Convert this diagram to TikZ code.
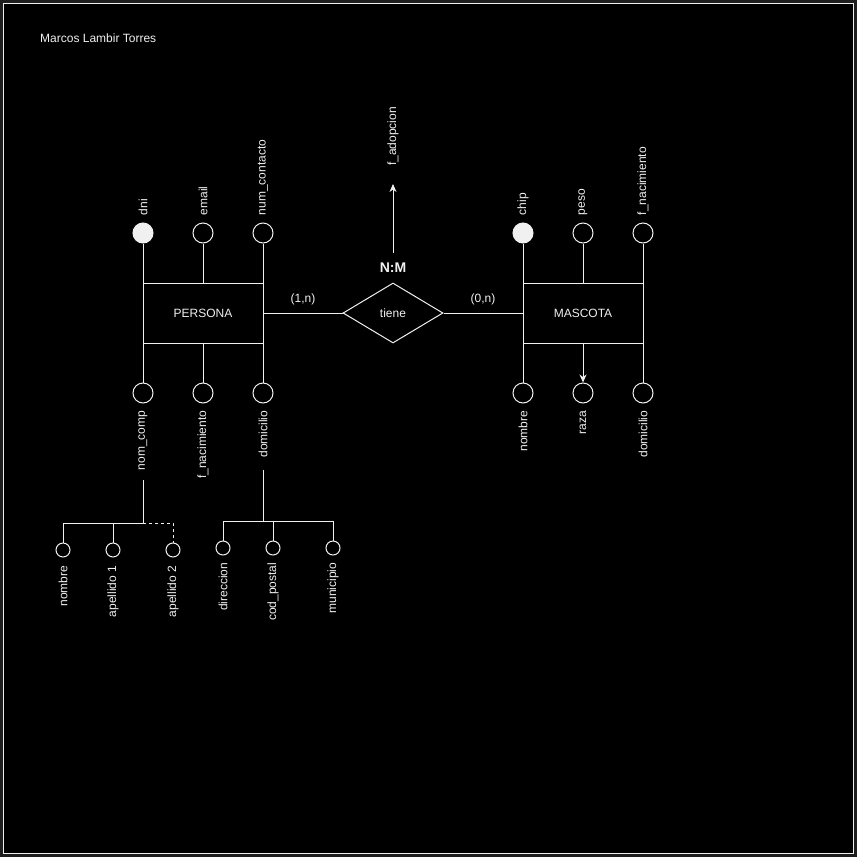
\documentclass[tikz,border=0pt]{standalone}
\usepackage{fontspec}
\setmainfont{Liberation Sans}
\usetikzlibrary{arrows.meta,calc,positioning,shapes.geometric}
\definecolor{Frame}{HTML}{1E1E1E}
\definecolor{Ink}{HTML}{F0F0F0}
\tikzset{entity/.style={draw=Ink,line width=1pt,minimum width=120pt,minimum height=60pt,inner sep=0pt,text=Ink,font=\fontsize{12}{14}\selectfont},rel/.style={diamond,aspect=1.6667,draw=Ink,line width=1pt,minimum width=100pt,minimum height=60pt,inner sep=0pt,text=Ink,font=\fontsize{12}{14}\selectfont},attr/.style={circle,draw=Ink,line width=1pt,minimum size=20pt,inner sep=0pt},keyattr/.style={attr,fill=Ink},subattr/.style={circle,draw=Ink,line width=1pt,minimum size=14pt,inner sep=0pt},lbl/.style={text=Ink,inner sep=0pt,font=\fontsize{12}{14}\selectfont},uplbl/.style={lbl,rotate=90,anchor=west},downlbl/.style={lbl,rotate=90,anchor=east},link/.style={draw=Ink,line width=1pt},tip/.style={-{Stealth[length=8pt,width=7pt,inset=2.5pt]},link}}

\begin{document}
\begin{tikzpicture}[x=1pt,y=-1pt]
        \fill[Frame](0,0)rectangle(857,857);
        \filldraw[fill=black,draw=Ink,line width=1pt](3.5,3.5)rectangle(853.5,853.5);
        \node[lbl,anchor=west](autor)at(40,38){Marcos Lambir Torres};
        % entidades y relacion
        \node[entity](persona)at(203,313){PERSONA};
        \node[entity](mascota)at(583,313){MASCOTA};
        \node[rel](tiene)at(393,313){tiene};
        \node[lbl,font=\fontsize{14}{16}\selectfont\bfseries](card)at(393,268){N:M};
        \draw[link](persona)--node[lbl,above=8pt]{(1,n)}(tiene);
        \draw[link](tiene)--node[lbl,above=8pt]{(0,n)}(mascota);
        \coordinate(adopbase)at(393,253);
        \coordinate(adoptip)at(393,184);
        \node[uplbl](fadop)at(393,166){f\_adopcion};
        \draw[tip](adopbase)--(adoptip);
        % atributos de PERSONA
        \foreach \n/\x/\s/\t in {dni/143/keyattr/dni,email/203/attr/email,numc/263/attr/num\_contacto}{
          \node[\s](\n)at(\x,233){};
          \node[uplbl](l\n)at([yshift=7pt]\n.north){\t};
          \draw[link](\n)--(\n|-persona.north);}
        \foreach \n/\x/\t in {nomc/143/nom\_comp,fnac/203/f\_nacimiento,domi/263/domicilio}{
          \node[attr](\n)at(\x,393){};
          \node[downlbl](l\n)at([yshift=-7pt]\n.south){\t};
          \draw[link](\n)--(\n|-persona.south);}
        % atributos de MASCOTA
        \foreach \n/\x/\s/\t in {chip/523/keyattr/chip,peso/583/attr/peso,fnacm/643/attr/f\_nacimiento}{
          \node[\s](\n)at(\x,233){};
          \node[uplbl](l\n)at([yshift=7pt]\n.north){\t};
          \draw[link](\n)--(\n|-mascota.north);}
        \foreach \n/\x/\t in {nomm/523/nombre,raza/583/raza,domm/643/domicilio}{
          \node[attr](\n)at(\x,393){};
          \node[downlbl](l\n)at([yshift=-7pt]\n.south){\t};}
        \draw[link](nomm)--(nomm|-mascota.south);
        \draw[tip](raza|-mascota.south)--(raza);
        \draw[link](domm)--(domm|-mascota.south);
        % nom_comp
        \coordinate(jnom)at(143,523);
        \draw[link]([yshift=-10pt]lnomc.west)--(jnom);
        \foreach \n/\x/\t in {nom/63/nombre,apa/113/apellido 1,apb/173/apellido 2}{
          \node[subattr](\n)at(\x,550){};
          \node[downlbl](l\n)at([yshift=-8pt]\n.south){\t};}
        \draw[link](jnom)-|(nom);
        \draw[link](jnom)-|(apa);
        \draw[link,dash pattern=on 3pt off 3pt](jnom)-|(apb);
        % domicilio
        \coordinate(jdom)at(263,521);
        \draw[link]([yshift=-12pt]ldomi.west)--(jdom);
        \foreach \n/\x/\t in {dir/223/direccion,cp/273/cod\_postal,mun/333/municipio}{
          \node[subattr](\n)at(\x,548){};
          \node[downlbl](l\n)at([yshift=-7pt]\n.south){\t};
          \draw[link](jdom)-|(\n);}
      \end{tikzpicture}
\end{document}
